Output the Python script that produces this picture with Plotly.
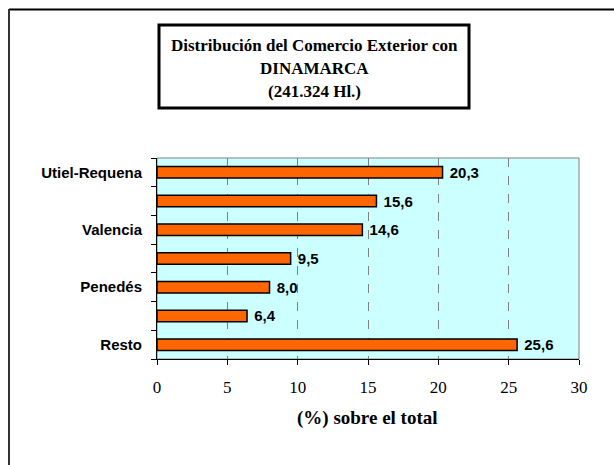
import plotly.graph_objects as go

# Regions (only every other one is labelled on the axis) and share of the total, %
regions = ["Utiel-Requena", "", "Valencia", "", "Penedés", "", "Resto"]
shares = [20.3, 15.6, 14.6, 9.5, 8.0, 6.4, 25.6]
x_ticks = [0, 5, 10, 15, 20, 25, 30]

title_lines = ["Distribución del Comercio Exterior con", "DINAMARCA", "(241.324 Hl.)"]
x_title = "(%) sobre el total"

W, H = 614, 465
L, R, T, B = 157, 35, 158, 106
PW, PH = W - L - R, H - T - B

def xp(px):
    return (px - L) / PW

def yp(py):
    return (H - B - py) / PH

SANS = "Liberation Sans, Arial, sans-serif"
SERIF = "Liberation Serif, Times New Roman, serif"

pos = list(range(len(shares)))

fig = go.Figure(
    go.Bar(
        x=shares,
        y=pos,
        orientation="h",
        width=0.4,
        marker=dict(color="#FF6600", line=dict(color="black", width=1.5)),
        texttemplate=" %{x:.1f}",
        textposition="outside",
        constraintext="none",
        textfont=dict(family=SANS, size=15, color="black", weight="bold"),
        cliponaxis=False,
    )
)

shapes = [
    # plot frame (grey on top/right, axes drawn over it)
    dict(type="rect", xref="paper", yref="paper", x0=0, x1=1, y0=0, y1=1,
         line=dict(color="#808080", width=1), layer="below"),
    # outer frame lines
    dict(type="line", xref="paper", yref="paper", x0=xp(9), x1=xp(W + 5), y0=yp(9.5), y1=yp(9.5),
         line=dict(color="black", width=2)),
    dict(type="line", xref="paper", yref="paper", x0=xp(9), x1=xp(9), y0=yp(9), y1=yp(H + 5),
         line=dict(color="#333333", width=2)),
    # title box
    dict(type="rect", xref="paper", yref="paper", x0=xp(159), x1=xp(469), y0=yp(108), y1=yp(25),
         line=dict(color="black", width=3), fillcolor="white"),
]

annotations = []
for text, py in zip(title_lines, [45, 69, 92]):
    annotations.append(dict(
        text=text, xref="paper", yref="paper", x=xp(314), y=yp(py),
        xanchor="center", yanchor="middle", showarrow=False,
        font=dict(family=SERIF, size=17, color="black", weight="bold"),
    ))
annotations.append(dict(
    text=x_title, xref="paper", yref="paper", x=xp(367), y=yp(418),
    xanchor="center", yanchor="middle", showarrow=False,
    font=dict(family=SERIF, size=19, color="black", weight="bold"),
))

fig.update_layout(
    width=W, height=H,
    margin=dict(l=L, r=R, t=T, b=B),
    paper_bgcolor="white",
    plot_bgcolor="#CCFFFF",
    separators=",.",
    showlegend=False,
    shapes=shapes,
    annotations=annotations,
    xaxis=dict(
        range=[0, 30],
        tickvals=x_ticks,
        ticks="outside", ticklen=5, tickcolor="black",
        ticklabelstandoff=8,
        showline=True, linecolor="black", linewidth=1,
        showgrid=True, gridcolor="#808080", griddash="dash", gridwidth=1,
        zeroline=False,
        tickfont=dict(family=SERIF, size=17, color="black"),
    ),
    yaxis=dict(
        range=[len(shares) - 0.5, -0.5],
        tickvals=pos,
        ticktext=regions,
        ticks="",
        showline=True, linecolor="black", linewidth=1,
        showgrid=False, zeroline=False,
        ticklabelstandoff=11,
        tickfont=dict(family=SANS, size=15, color="black", weight="bold"),
        minor=dict(tick0=-0.5, dtick=1, ticks="outside", ticklen=5, tickcolor="black", showgrid=False),
    ),
)

fig.write_html("out.html")
